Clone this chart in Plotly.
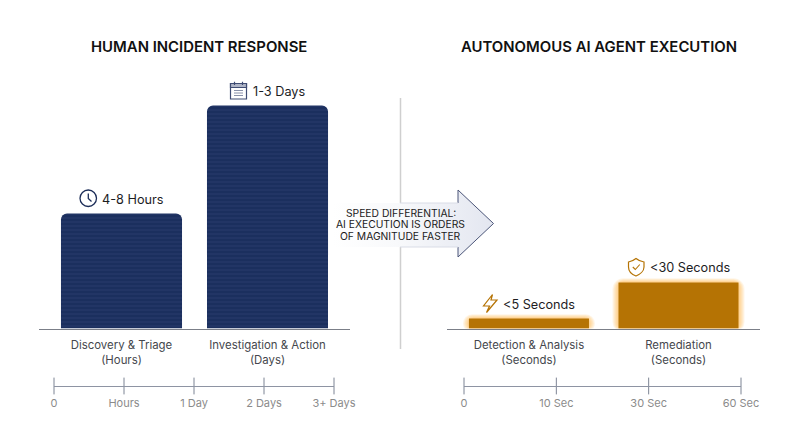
import plotly.graph_objects as go

FONT = "Inter"
NAVY = "#1b2f5e"
AMBER = "#b57304"
INK = "#1d1d1f"

# ---- data -----------------------------------------------------------------
human_titles = "HUMAN INCIDENT RESPONSE"
agent_titles = "AUTONOMOUS AI AGENT EXECUTION"
human_categories = ["Discovery & Triage<br>(Hours)", "Investigation & Action<br>(Days)"]
human_heights = [115, 223]
human_labels = ["4-8 Hours", "1-3 Days"]
agent_categories = ["Detection & Analysis<br>(Seconds)", "Remediation<br>(Seconds)"]
agent_heights = [10, 46]
agent_labels = ["<5 Seconds", "<30 Seconds"]
human_scale = ["0", "Hours", "1 Day", "2 Days", "3+ Days"]
agent_scale = ["0", "10 Sec", "30 Sec", "60 Sec"]
arrow_lines = ["SPEED DIFFERENTIAL:", "AI EXECUTION IS ORDERS", "OF MAGNITUDE FASTER"]

W, H = 800, 447
BASE = 328.5
fig = go.Figure()


def dom_x(a, b):
    return [a / W, b / W]


def dom_y(top, bottom):
    return [(H - bottom) / H, (H - top) / H]


# ---- bars -----------------------------------------------------------------
fig.add_trace(go.Bar(
    x=human_categories, y=human_heights, width=0.829, xaxis="x", yaxis="y",
    marker=dict(color=NAVY, cornerradius=6, line_width=0,
                pattern=dict(shape="-", fgcolor="#2a3e6d", bgcolor=NAVY, size=4, solidity=0.22)),
    showlegend=False, hoverinfo="skip", cliponaxis=False))

spacing = 149.5
for k in [6, 5, 4, 3, 2, 1]:
    fig.add_trace(go.Bar(
        x=agent_categories, y=[v + 2 * k * 0.7 for v in agent_heights], base=-k * 0.7,
        width=(120 + 2 * k) / spacing, xaxis="x2", yaxis="y2",
        marker=dict(color="rgba(255,165,30,0.10)", cornerradius=5 + k, line_width=0),
        showlegend=False, hoverinfo="skip", cliponaxis=False))
fig.add_trace(go.Bar(
    x=agent_categories, y=agent_heights, width=120 / spacing, xaxis="x2", yaxis="y2",
    marker=dict(color=AMBER, cornerradius=5, line_width=0),
    showlegend=False, hoverinfo="skip", cliponaxis=False))

# ---- scales ---------------------------------------------------------------
fig.add_trace(go.Scatter(
    x=list(range(len(human_scale))), y=[0] * len(human_scale), xaxis="x3", yaxis="y3", mode="markers",
    marker=dict(symbol="line-ns", size=12, line=dict(width=1, color="#7d8494")),
    showlegend=False, hoverinfo="skip", cliponaxis=False))
fig.add_trace(go.Scatter(
    x=list(range(len(agent_scale))), y=[0] * len(agent_scale), xaxis="x4", yaxis="y4", mode="markers",
    marker=dict(symbol="line-ns", size=12, line=dict(width=1, color="#7d8494")),
    showlegend=False, hoverinfo="skip", cliponaxis=False))

# ---- arrow (pixel overlay) ------------------------------------------------
arrow_x = [333, 458, 458, 493.5, 458, 458, 333, 333]
arrow_y = [203, 203, 190, 223.5, 257, 247, 247, 203]
fig.add_trace(go.Scatter(
    x=arrow_x, y=arrow_y, xaxis="x5", yaxis="y5", mode="none", fill="toself",
    fillgradient=dict(type="horizontal", colorscale=[[0, "#ffffff"], [0.4, "#f8f9fb"], [1, "#e3e6f0"]]),
    showlegend=False, hoverinfo="skip"))
fig.add_trace(go.Scatter(
    x=[458, 458, 493.5, 458, 458], y=[203, 190, 223.5, 257, 247], xaxis="x5", yaxis="y5", mode="lines",
    line=dict(color="#4b5578", width=1), showlegend=False, hoverinfo="skip"))
for yy in (203, 247):
    fig.add_trace(go.Scatter(
        x=[400, 458], y=[yy, yy], xaxis="x5", yaxis="y5", mode="lines",
        line=dict(color="#d9dce6", width=1), showlegend=False, hoverinfo="skip"))


# ---- layout ---------------------------------------------------------------
def scale_axis(labels, x0, x1, anchor):
    return dict(domain=dom_x(x0, x1), range=[0, len(labels) - 1], anchor=anchor, tickmode="array",
                tickvals=list(range(len(labels))), ticktext=labels, showgrid=False, zeroline=False,
                showline=True, linecolor="#8e94a3", linewidth=1, ticks="", ticklabelstandoff=7,
                automargin=False, tickfont=dict(family=FONT, size=11, color="#8b8b8b"))


def bar_axis(x0, x1, rng, anchor):
    return dict(domain=dom_x(x0, x1), range=rng, anchor=anchor, showgrid=False, zeroline=False,
                showline=True, linecolor="#7b7f88", linewidth=1, ticks="", ticklabelstandoff=6,
                automargin=False, tickfont=dict(family=FONT, size=11.4, color="#45474d"))


def hidden_y(dom, rng, anchor):
    return dict(domain=dom, range=rng, anchor=anchor, visible=False, fixedrange=True, automargin=False)


annotations = []


def add_text(x, y, text, size, color=INK, weight=400, xref="x5", yref="y5", **kw):
    annotations.append(dict(x=x, y=y, xref=xref, yref=yref, text=text, showarrow=False,
                            font=dict(family=FONT, size=size, color=color, weight=weight), **kw))


add_text(199, 47, human_titles, 14.9, color="#111111", weight=600)
add_text(599, 47, agent_titles, 14.9, color="#111111", weight=600)
for line, yy in zip(arrow_lines, [212.5, 224.3, 235.8]):
    add_text(400.5, yy, line, 10.3, color="#1a1a1a")
for cat, v, lab, sx in zip(human_categories, human_heights, human_labels, [11, 11]):
    add_text(cat, v, lab, 12.7, xref="x", yref="y", xshift=sx, yshift=14)
for cat, v, lab, sx, sy in zip(agent_categories, agent_heights, agent_labels, [10.5, 11.5], [14, 15]):
    add_text(cat, v, lab.replace("<", "&lt;"), 12.7, xref="x2", yref="y2", xshift=sx, yshift=sy)


def sh(kind, **kw):
    return dict(type=kind, xref="x5", yref="y5", **kw)


def path(d, color, width=1.2, fill=None):
    return sh("path", path=d, line=dict(color=color, width=width),
              fillcolor=fill or "rgba(0,0,0,0)", layer="above")


shapes = [
    # divider
    sh("line", x0=400.5, x1=400.5, y0=98, y1=349, line=dict(color="#cfcfcf", width=1.5), layer="below"),
    # clock
    sh("circle", x0=80, x1=96.5, y0=190, y1=206.5, line=dict(color="#1c2d58", width=1.3), layer="above"),
    path("M88.3 193.5 L88.3 198.5 L91.5 201.5", "#1c2d58", 1.3),
    # calendar
    sh("rect", x0=230.5, x1=246.5, y0=83.5, y1=99, line=dict(color="#3f4c73", width=1.2),
       fillcolor="#ffffff", layer="above"),
    sh("rect", x0=230.5, x1=246.5, y0=83.5, y1=87.5, line=dict(color="#3f4c73", width=1.2),
       fillcolor="#aeb4c6", layer="above"),
    path("M234.5 81.8 L234.5 85 M242.5 81.8 L242.5 85", "#3f4c73", 1.2),
    path("M234 90.5 H243 M234 93 H243 M234 95.5 H243", "#8a92aa", 1),
    # bolt
    path("M492.5 294.5 L483.5 306 L489.5 306 L486.5 312.5 L497 300 L491 300 Z", AMBER, 1.2),
    # shield
    path("M636 258.5 C633 261 631 261.5 628.5 262 L628.5 267 C628.5 271 632 274.5 636 276 "
         "C640 274.5 644 271 644 267 L644 262 C641 261.5 639 261 636 258.5 Z", AMBER, 1.2),
    path("M632.8 267 L635.3 269.5 L639.8 264.5", AMBER, 1.1),
]

fig.update_layout(
    template="none",
    width=W, height=H, autosize=False,
    margin=dict(l=0, r=0, t=0, b=0),
    paper_bgcolor="#ffffff", plot_bgcolor="rgba(0,0,0,0)",
    barmode="overlay", showlegend=False,
    font=dict(family=FONT),
    xaxis=bar_axis(39, 350, [-0.565, 1.565], "y"),
    yaxis=hidden_y(dom_y(0, BASE), [0, BASE], "x"),
    xaxis2=bar_axis(447, 760, [-0.548, 1.545], "y2"),
    yaxis2=hidden_y(dom_y(0, BASE), [0, BASE], "x2"),
    xaxis3=scale_axis(human_scale, 54, 334, "y3"),
    yaxis3=hidden_y(dom_y(376, 386), [0, 1], "x3"),
    xaxis4=scale_axis(agent_scale, 464, 741, "y4"),
    yaxis4=hidden_y(dom_y(376, 386), [0, 1], "x4"),
    xaxis5=dict(domain=[0, 1], range=[0, W], anchor="y5", visible=False, fixedrange=True, automargin=False),
    yaxis5=dict(domain=[0, 1], range=[H, 0], anchor="x5", visible=False, fixedrange=True, automargin=False),
    annotations=annotations,
    shapes=shapes,
)

fig.write_html(
    "out.html",
    config=dict(displayModeBar=False, responsive=False),
    post_script="document.body.style.margin='0';document.body.style.overflow='hidden';"
                "document.documentElement.style.overflow='hidden';",
)
